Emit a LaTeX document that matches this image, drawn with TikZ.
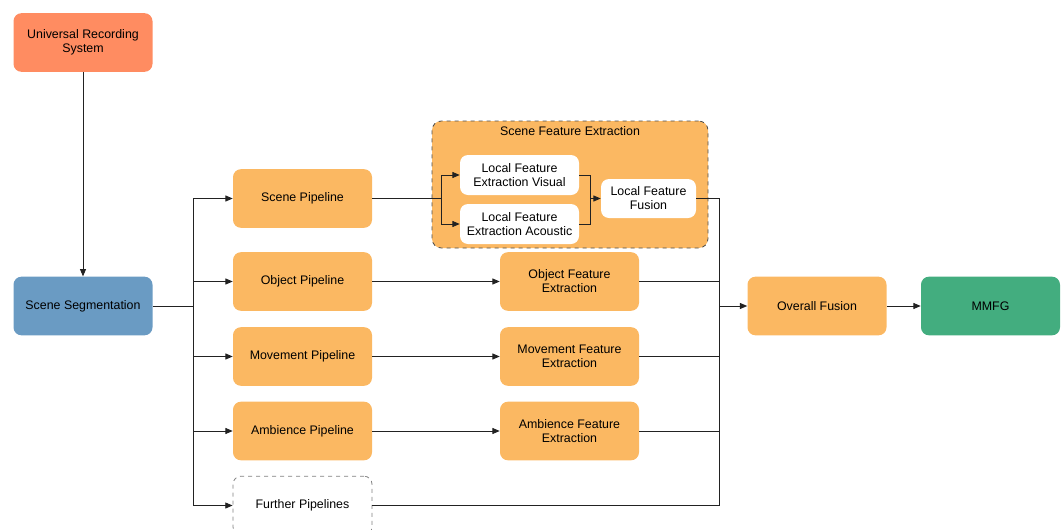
\documentclass[tikz,border=0pt]{standalone}
\usepackage{fontspec}
\setmainfont{Liberation Sans}
\usetikzlibrary{arrows.meta}
\definecolor{salmonc}{HTML}{FF8C61}
\definecolor{bluec}{HTML}{6A9BC3}
\definecolor{orangec}{HTML}{FBB862}
\definecolor{greenc}{HTML}{43AD7F}
\definecolor{linec}{HTML}{222222}
\begin{document}
\begin{tikzpicture}[x=0.75pt,y=-0.75pt,
  txt/.style={font=\fontsize{9.3}{10.5}\selectfont, align=center},
  box/.style={txt, rounded corners=6pt, minimum width=104.25pt, minimum height=44pt, inner sep=1pt},
  obox/.style={box, fill=orangec},
  wbox/.style={txt, rounded corners=6pt, fill=white, minimum width=89.25pt, minimum height=30pt, inner sep=1pt},
  container/.style={rounded corners=7pt, fill=orangec, draw=linec!80, dashed, line width=0.6pt, minimum width=207pt, minimum height=95.25pt, inner sep=0pt},
  conn/.style={draw=linec, line width=0.7pt},
  arr/.style={conn, -{Triangle[length=5.5pt,width=4.5pt]}}]
\clip (0,0) rectangle (1064,529);
% nodes
\node[box, fill=salmonc] (urs) at (83,42.5) {Universal Recording\\System};
\node[box, fill=bluec] (seg) at (83,306) {Scene Segmentation};
\node[obox] (scene) at (302.5,198.5) {Scene Pipeline};
\node[obox] (object) at (302.5,281.5) {Object Pipeline};
\node[obox] (movement) at (302.5,356.5) {Movement Pipeline};
\node[obox] (ambience) at (302.5,431) {Ambience Pipeline};
\node[box, fill=white, draw=gray, dashed, line width=0.6pt] (further) at (302.5,505.5) {Further Pipelines};
\node[container] (sfe) at (570,184.5) {};
\node[txt] (sfetitle) at (570,131) {Scene Feature Extraction};
\node[wbox] (vis) at (519.5,175) {Local Feature\\Extraction Visual};
\node[wbox] (aco) at (519.5,224) {Local Feature\\Extraction Acoustic};
\node[wbox, minimum width=71.25pt, minimum height=29.25pt] (fus) at (648.5,198.5) {Local Feature\\Fusion};
\node[obox] (ofe) at (569.5,281.5) {Object Feature\\Extraction};
\node[obox] (mfe) at (569.5,356.5) {Movement Feature\\Extraction};
\node[obox] (afe) at (569.5,431) {Ambience Feature\\Extraction};
\node[obox] (overall) at (817,306) {Overall Fusion};
\node[box, fill=greenc] (mmfg) at (990.5,306) {MMFG};
% connectors
\draw[arr] (urs) -- (seg);
\coordinate (b1) at (193,306);
\draw[conn] (seg.east) -- (b1);
\draw[arr] (b1) |- (scene.west);
\draw[arr] (b1) |- (object.west);
\draw[arr] (b1) |- (movement.west);
\draw[arr] (b1) |- (ambience.west);
\draw[arr] (b1) |- (further.west);
\coordinate (s1) at (441,198.5);
\draw[conn] (scene.east) -- (s1);
\draw[arr] (s1) |- (vis.west);
\draw[arr] (s1) |- (aco.west);
\coordinate (j1) at (590,198.5);
\draw[conn] (vis.east) -| (j1);
\draw[conn] (aco.east) -| (j1);
\draw[arr] (j1) -- (fus.west);
\draw[arr] (object) -- (ofe);
\draw[arr] (movement) -- (mfe);
\draw[arr] (ambience) -- (afe);
\coordinate (b2) at (719,306);
\draw[conn] (fus.east) -| (b2);
\draw[conn] (ofe.east) -| (b2);
\draw[conn] (mfe.east) -| (b2);
\draw[conn] (afe.east) -| (b2);
\draw[conn] (further.east) -| (b2);
\draw[arr] (b2) -- (overall.west);
\draw[arr] (overall) -- (mmfg);
\end{tikzpicture}
\end{document}
